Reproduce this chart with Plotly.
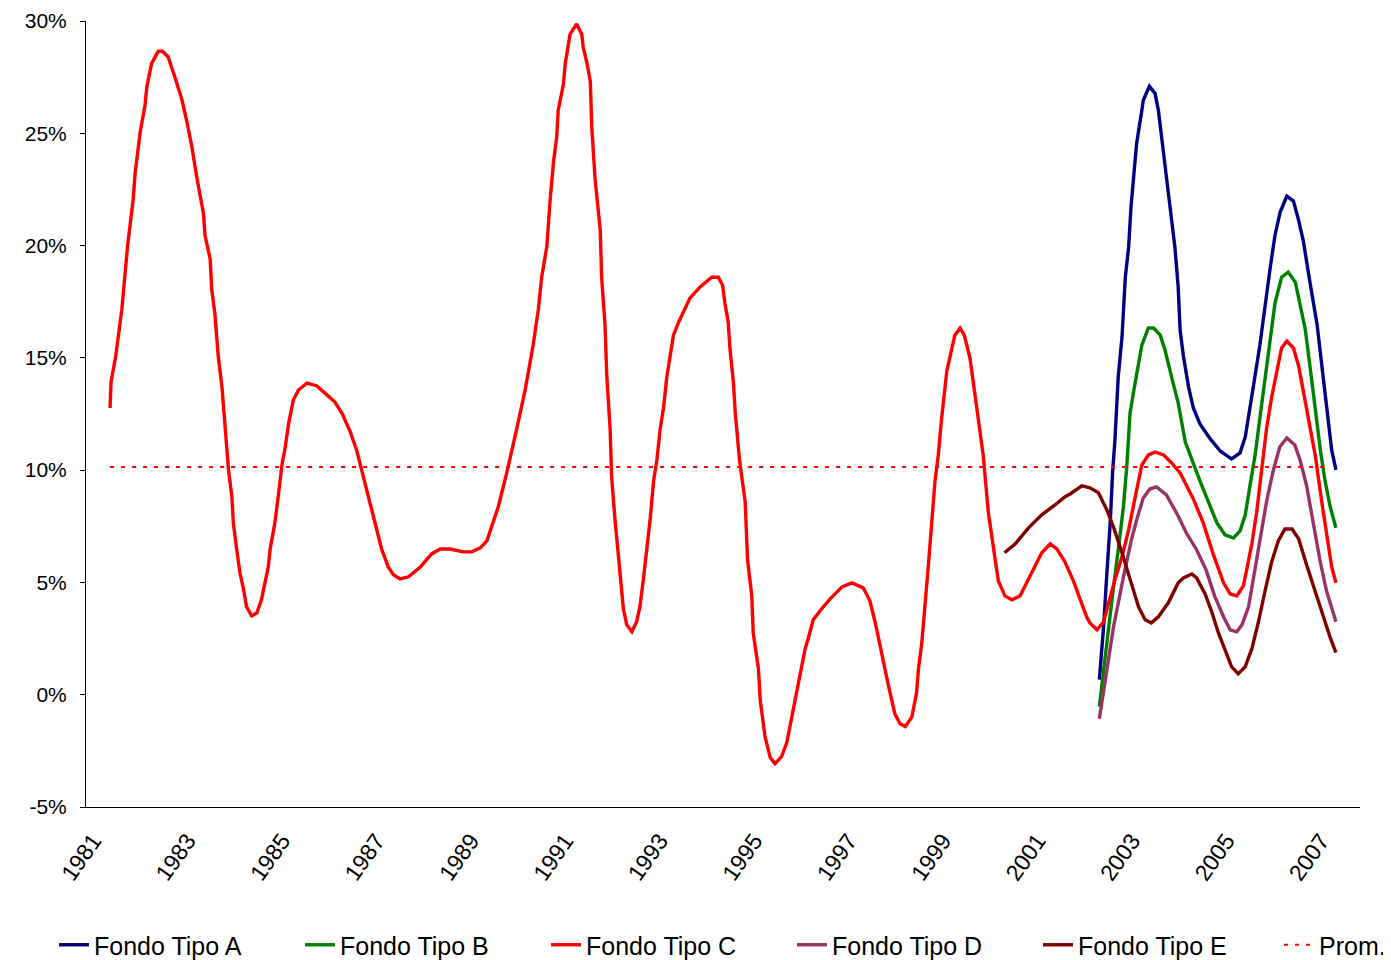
import plotly.graph_objects as go

# ---- data: decimal year, return in % ----
c_years = [1981.36, 1981.38, 1981.48, 1981.61, 1981.73, 1981.85, 1981.89, 1982.00, 1982.10, 1982.14,
           1982.24, 1982.38, 1982.47, 1982.59, 1982.74, 1982.88, 1982.98, 1983.09, 1983.20, 1983.34,
           1983.37, 1983.48, 1983.51, 1983.58, 1983.65, 1983.73, 1983.80, 1983.87, 1983.94, 1983.97,
           1984.04, 1984.11, 1984.18, 1984.25, 1984.36, 1984.47, 1984.57, 1984.64, 1984.71, 1984.75,
           1984.85, 1984.92, 1985.00, 1985.07, 1985.14, 1985.24, 1985.35, 1985.53, 1985.74, 1985.91,
           1986.12, 1986.27, 1986.44, 1986.58, 1986.69, 1986.83, 1986.97, 1987.11, 1987.25, 1987.36,
           1987.50, 1987.68, 1987.93, 1988.17, 1988.35, 1988.56, 1988.84, 1989.02, 1989.20, 1989.34,
           1989.58, 1989.76, 1989.97, 1990.15, 1990.32, 1990.43, 1990.50, 1990.61, 1990.68, 1990.75,
           1990.82, 1990.85, 1990.96, 1991.00, 1991.10, 1991.24, 1991.35, 1991.38, 1991.46, 1991.53,
           1991.56, 1991.63, 1991.74, 1991.77, 1991.84, 1991.88, 1991.95, 1991.98, 1992.05, 1992.12,
           1992.20, 1992.23, 1992.30, 1992.41, 1992.51, 1992.58, 1992.65, 1992.73, 1992.80, 1992.87,
           1992.94, 1993.01, 1993.08, 1993.15, 1993.22, 1993.29, 1993.40, 1993.64, 1993.85, 1994.10,
           1994.24, 1994.33, 1994.38, 1994.45, 1994.49, 1994.56, 1994.60, 1994.69, 1994.81,
           1994.86, 1994.95, 1994.98, 1995.09, 1995.13, 1995.23, 1995.34, 1995.44, 1995.58, 1995.69,
           1995.76, 1995.86, 1995.97, 1996.08, 1996.15, 1996.25, 1996.43, 1996.61, 1996.86, 1997.07,
           1997.31, 1997.45, 1997.56, 1997.70, 1997.84, 1997.98, 1998.09, 1998.20, 1998.34, 1998.44,
           1998.48, 1998.55, 1998.62, 1998.69, 1998.76, 1998.83, 1998.90, 1998.97, 1999.08, 1999.15,
           1999.25, 1999.36, 1999.45, 1999.57, 1999.64, 1999.75, 1999.85, 1999.96, 2000.07, 2000.17,
           2000.31, 2000.46, 2000.63, 2000.77, 2000.95, 2001.09, 2001.27, 2001.41, 2001.58, 2001.76,
           2001.90, 2002.04, 2002.11, 2002.26, 2002.40, 2002.50, 2002.64, 2002.79, 2002.93, 2003.07,
           2003.21, 2003.35, 2003.49, 2003.67, 2003.84, 2004.02, 2004.30, 2004.51, 2004.72, 2004.94,
           2005.08, 2005.22, 2005.36, 2005.43, 2005.54, 2005.64, 2005.75, 2005.85, 2005.96, 2006.07,
           2006.17, 2006.28, 2006.42, 2006.53, 2006.63, 2006.74, 2006.88, 2007.02, 2007.16, 2007.23,
           2007.32]
c_values = [12.77, 13.92, 15.08, 17.17, 19.97, 22.06, 23.22, 25.09, 26.25, 27.09,
            28.11, 28.65, 28.65, 28.40, 27.45, 26.51, 25.58, 24.42, 23.00, 21.40,
            20.46, 19.40, 18.11, 16.95, 15.08, 13.70, 11.83, 9.96, 8.81, 7.65,
            6.49, 5.43, 4.76, 3.91, 3.51, 3.65, 4.27, 5.07, 5.69, 6.49,
            7.65, 8.81, 10.23, 11.03, 12.06, 13.12, 13.57, 13.88, 13.75, 13.43,
            13.03, 12.54, 11.74, 10.90, 9.96, 8.81, 7.65, 6.49, 5.69, 5.34,
            5.16, 5.25, 5.69, 6.27, 6.49, 6.49, 6.36, 6.36, 6.54, 6.85,
            8.36, 9.88, 11.83, 13.57, 15.57, 17.17, 18.59, 19.97, 22.06, 23.71,
            24.87, 26.02, 27.18, 28.11, 29.40, 29.87, 29.40, 28.83, 28.11, 27.31,
            25.31, 23.00, 20.69, 18.59, 16.50, 14.15, 11.83, 9.74, 7.87, 6.27,
            4.85, 3.83, 3.11, 2.80, 3.25, 3.91, 5.07, 6.49, 7.87, 9.52,
            10.45, 11.83, 12.77, 14.15, 15.08, 16.01, 16.59, 17.66, 18.15, 18.59,
            18.59, 18.24, 17.44, 16.59, 15.35, 13.92, 12.54, 10.45, 8.59,
            6.01, 4.40, 2.76, 1.16, -0.27, -1.87, -2.80, -3.07, -2.76, -2.14,
            -1.42, -0.27, 0.89, 2.05, 2.54, 3.34, 3.83, 4.27, 4.80, 4.98,
            4.76, 4.18, 3.25, 1.82, 0.44, -0.85, -1.29, -1.42, -0.98, 0.09,
            1.16, 2.31, 3.91, 5.78, 7.65, 9.52, 10.68, 12.32, 14.41, 15.08,
            16.01, 16.33, 16.01, 14.99, 13.92, 12.32, 10.68, 8.10, 6.49, 5.07,
            4.40, 4.23, 4.40, 4.98, 5.78, 6.32, 6.72, 6.49, 5.92, 5.07,
            4.27, 3.47, 3.20, 2.89, 3.25, 4.09, 5.12, 6.14, 7.34, 8.81,
            10.23, 10.68, 10.81, 10.68, 10.32, 9.88, 8.72, 7.65, 6.27, 4.98,
            4.49, 4.40, 4.85, 5.56, 6.72, 8.10, 9.96, 11.83, 13.26, 14.41,
            15.44, 15.75, 15.44, 14.64, 13.48, 12.32, 10.68, 8.59, 6.49, 5.69,
            4.98]

a_years = [2002.31, 2002.40, 2002.47, 2002.54, 2002.59, 2002.64, 2002.71, 2002.79, 2002.86, 2002.93,
           2002.98, 2003.03, 2003.10, 2003.21, 2003.24, 2003.37, 2003.49, 2003.56, 2003.63, 2003.70,
           2003.81, 2003.91, 2003.98, 2004.02, 2004.09, 2004.20, 2004.30, 2004.44, 2004.66, 2004.87,
           2005.11, 2005.29, 2005.40, 2005.47, 2005.57, 2005.71, 2005.82, 2005.93, 2006.03, 2006.14,
           2006.28, 2006.42, 2006.53, 2006.63, 2006.77, 2006.92, 2007.05, 2007.16, 2007.23, 2007.32]
a_values = [0.67, 3.02, 5.43, 7.65, 9.88, 11.34, 14.15, 15.93, 18.59, 19.93,
            21.71, 23.04, 24.56, 26.02, 26.47, 27.09, 26.78, 26.02, 24.82, 23.80,
            21.89, 19.93, 18.15, 16.24, 15.08, 13.70, 12.77, 12.06, 11.39, 10.85,
            10.50, 10.77, 11.48, 12.32, 13.70, 15.57, 17.44, 19.04, 20.46, 21.49,
            22.20, 21.98, 21.13, 20.20, 18.37, 16.50, 14.15, 12.32, 10.90, 10.01]

b_years = [2002.31, 2002.40, 2002.50, 2002.61, 2002.71, 2002.82, 2002.89, 2002.96, 2003.03, 2003.10,
           2003.21, 2003.35, 2003.46, 2003.60, 2003.70, 2003.84, 2003.98, 2004.13, 2004.27, 2004.44,
           2004.62, 2004.80, 2004.97, 2005.15, 2005.29, 2005.40, 2005.50, 2005.61, 2005.71, 2005.82,
           2005.93, 2006.03, 2006.17, 2006.31, 2006.46, 2006.56, 2006.67, 2006.77, 2006.88, 2006.99,
           2007.09, 2007.20, 2007.32]
b_values = [-0.53, 1.11, 3.02, 4.80, 6.45, 8.36, 10.14, 12.54, 13.43, 14.32,
            15.57, 16.33, 16.33, 16.01, 15.35, 14.15, 12.99, 11.25, 10.45, 9.52,
            8.59, 7.65, 7.12, 6.98, 7.30, 8.01, 9.30, 10.68, 12.32, 14.15,
            16.01, 17.44, 18.59, 18.82, 18.37, 17.44, 16.28, 14.64, 12.77, 10.90,
            9.52, 8.36, 7.43]

d_years = [2002.31, 2002.43, 2002.61, 2002.82, 2002.99, 2003.10, 2003.24, 2003.38, 2003.52, 2003.73,
           2003.98, 2004.15, 2004.36, 2004.57, 2004.75, 2004.94, 2005.08, 2005.22, 2005.33, 2005.47,
           2005.61, 2005.75, 2005.85, 2005.99, 2006.13, 2006.28, 2006.45, 2006.56, 2006.70, 2006.84,
           2006.98, 2007.12, 2007.32]
d_values = [-1.07, 0.67, 3.02, 5.25, 6.90, 7.78, 8.76, 9.16, 9.25, 8.90,
            7.96, 7.21, 6.49, 5.56, 4.40, 3.47, 2.89, 2.80, 3.11, 3.91,
            5.56, 7.21, 8.59, 9.96, 11.03, 11.43, 11.12, 10.45, 9.30, 7.65,
            6.01, 4.63, 3.25]

e_years = [2000.30, 2000.53, 2000.81, 2001.09, 2001.37, 2001.58, 2001.69, 2001.94, 2002.11, 2002.29,
           2002.47, 2002.61, 2002.79, 2002.96, 2003.14, 2003.28, 2003.41, 2003.56, 2003.77, 2003.98,
           2004.09, 2004.27, 2004.37, 2004.55, 2004.69, 2004.83, 2004.97, 2005.11, 2005.25, 2005.40,
           2005.54, 2005.68, 2005.82, 2005.96, 2006.10, 2006.24, 2006.39, 2006.53, 2006.70, 2006.88,
           2007.05, 2007.20, 2007.32]
e_values = [6.32, 6.72, 7.43, 8.01, 8.45, 8.81, 8.94, 9.30, 9.21, 8.99,
            8.23, 7.47, 6.32, 5.12, 3.91, 3.34, 3.20, 3.47, 4.09, 4.98,
            5.20, 5.38, 5.20, 4.49, 3.69, 2.76, 1.96, 1.25, 0.93, 1.25,
            2.05, 3.25, 4.63, 5.92, 6.85, 7.38, 7.38, 6.94, 5.78, 4.63,
            3.47, 2.54, 1.87]

prom_years = [1981.36, 2007.16]
prom_values = [10.14, 10.14]

x_tick_years = [1981, 1983, 1985, 1987, 1989, 1991, 1993, 1995, 1997, 1999, 2001, 2003, 2005, 2007]
y_tick_values = [-5, 0, 5, 10, 15, 20, 25, 30]
y_tick_labels = ["-5%", "0%", "5%", "10%", "15%", "20%", "25%", "30%"]

series = [
    ("Fondo Tipo A", a_years, a_values, "#000080"),
    ("Fondo Tipo B", b_years, b_values, "#008000"),
    ("Fondo Tipo C", c_years, c_values, "#FF0000"),
    ("Fondo Tipo D", d_years, d_values, "#993366"),
    ("Fondo Tipo E", e_years, e_values, "#800000"),
]

FONT = "Arial, 'Liberation Sans', sans-serif"
W, H = 1383, 952  # page body has an 8px margin

fig = go.Figure()
for name, xs, ys, col in series:
    fig.add_trace(go.Scatter(x=xs, y=ys, mode="lines", name=name,
                             line=dict(color=col, width=3.4), legend="legend"))
fig.add_trace(go.Scatter(x=prom_years, y=prom_values, mode="lines", name="Prom.",
                         line=dict(color="#FF0000", width=2, dash="4px,7px"), legend="legend2"))

legend_common = dict(orientation="h", xref="container", yref="container",
                     y=15 / H, yanchor="middle",
                     font=dict(size=25, family=FONT, color="black"),
                     bgcolor="rgba(0,0,0,0)")

fig.update_layout(
    width=W, height=H,
    margin=dict(l=78, r=31, t=13, b=153, autoexpand=False),
    paper_bgcolor="white", plot_bgcolor="white",
    font=dict(family=FONT, color="black"),
    showlegend=True,
    legend=dict(x=46 / W, xanchor="left", entrywidth=201, entrywidthmode="pixels", **legend_common),
    legend2=dict(x=1.0, xanchor="right", **legend_common),
)
fig.update_xaxes(range=[1980.85, 2007.83], tickmode="array", tickvals=x_tick_years,
                 tickangle=-55, ticks="", showgrid=False, zeroline=False, automargin=False,
                 showline=True, linecolor="black", linewidth=1,
                 tickfont=dict(size=23, family=FONT), ticklabelstandoff=10)
fig.update_yaxes(range=[-5, 30], tickmode="array", tickvals=y_tick_values, ticktext=y_tick_labels,
                 ticks="outside", ticklen=5, tickcolor="black", showgrid=False, zeroline=False,
                 automargin=False, showline=True, linecolor="black", linewidth=1,
                 tickfont=dict(size=21, family=FONT), ticklabelstandoff=9)

fig.write_html("out.html")
